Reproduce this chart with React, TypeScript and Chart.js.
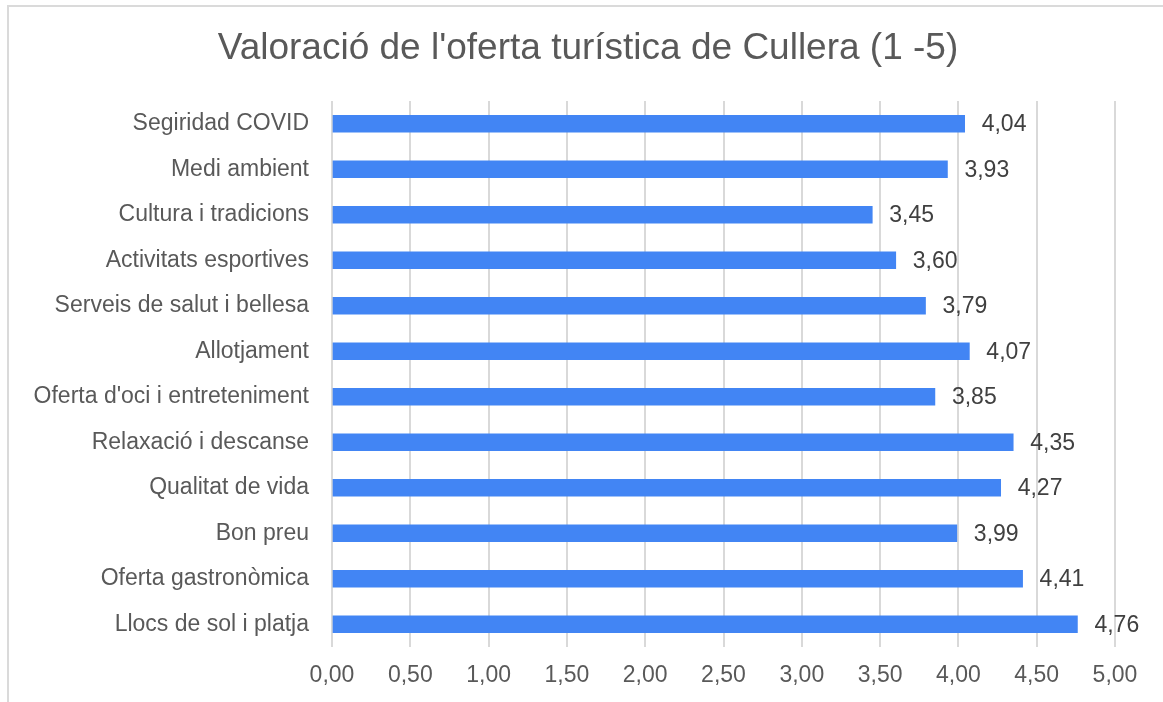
import React, { useEffect, useRef } from "react";
import { Chart, registerables } from "chart.js";

Chart.register(...registerables);

const title = "Valoració de l'oferta turística de Cullera (1 -5)";
const categories = [
  "Segiridad COVID",
  "Medi ambient",
  "Cultura i tradicions",
  "Activitats esportives",
  "Serveis de salut i bellesa",
  "Allotjament",
  "Oferta d'oci i entreteniment",
  "Relaxació i descanse",
  "Qualitat de vida",
  "Bon preu",
  "Oferta gastronòmica",
  "Llocs de sol i platja",
];
const values = [4.04, 3.93, 3.45, 3.6, 3.79, 4.07, 3.85, 4.35, 4.27, 3.99, 4.41, 4.76];
const xMin = 0;
const xMax = 5;
const xStep = 0.5;

const fmt = (v: number) => v.toFixed(2).replace(".", ",");
const FONT = "'Liberation Sans', Arial, Helvetica, sans-serif";

const valueLabels = {
  id: "valueLabels",
  afterDatasetsDraw(chart: any) {
    const ctx = chart.ctx;
    const meta = chart.getDatasetMeta(0);
    ctx.save();
    ctx.font = `23px ${FONT}`;
    ctx.fillStyle = "#404040";
    ctx.textAlign = "left";
    ctx.textBaseline = "middle";
    meta.data.forEach((bar: any, i: number) => {
      ctx.fillText(fmt(values[i]), bar.x + 17, bar.y + 1);
    });
    ctx.restore();
  },
};

const titlePlugin = {
  id: "customTitle",
  afterDraw(chart: any) {
    const ctx = chart.ctx;
    ctx.save();
    ctx.font = `37px ${FONT}`;
    ctx.fillStyle = "#595959";
    ctx.textAlign = "center";
    ctx.textBaseline = "middle";
    ctx.fillText(title, 588, 49);
    ctx.restore();
  },
};

export default function App() {
  const ref = useRef<HTMLCanvasElement | null>(null);
  useEffect(() => {
    if (!ref.current) return;
    const chart = new Chart(ref.current, {
      type: "bar",
      data: {
        labels: categories,
        datasets: [
          {
            data: values,
            backgroundColor: "#4285F4",
            borderWidth: 0,
            barThickness: 17,
          },
        ],
      },
      options: {
        indexAxis: "y",
        animation: false,
        responsive: false,
        maintainAspectRatio: false,
        layout: { padding: { left: 0, right: 48, top: 101, bottom: 0 } },
        plugins: {
          legend: { display: false },
          tooltip: { enabled: false },
          title: { display: false },
        },
        scales: {
          x: {
            min: xMin,
            max: xMax,
            ticks: {
              stepSize: xStep,
              color: "#595959",
              font: { family: FONT, size: 23 },
              padding: 15,
              callback: (v: any) => fmt(Number(v)),
            },
            grid: { color: "#d9d9d9", lineWidth: 2, drawTicks: false },
            border: { display: false },
            afterFit: (s: any) => {
              s.height = 55;
            },
          },
          y: {
            ticks: {
              color: "#595959",
              font: { family: FONT, size: 23 },
              padding: 23,
            },
            grid: { display: false, drawTicks: false },
            border: { display: false },
            afterFit: (s: any) => {
              s.width = 332;
            },
          },
        },
      },
      plugins: [valueLabels, titlePlugin],
    });
    return () => chart.destroy();
  }, []);
  return (
    <div style={{ position: "absolute", left: 0, top: 0, width: 1163, height: 702, background: "#fff", overflow: "hidden" }}>
      <div
        style={{
          position: "absolute",
          left: 7,
          top: 5,
          width: 1200,
          height: 800,
          borderTop: "2px solid #dadada",
          borderLeft: "2px solid #dadada",
        }}
      />
      <canvas ref={ref} width={1163} height={702} style={{ position: "absolute", left: 0, top: 0 }} />
    </div>
  );
}
